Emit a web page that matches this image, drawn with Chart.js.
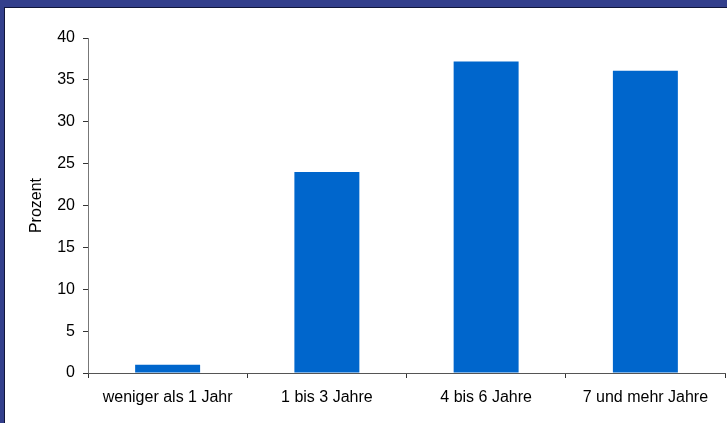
<!DOCTYPE html>
<html>
<head>
<meta charset="utf-8">
<script src="https://cdn.jsdelivr.net/npm/chart.js@4"></script>
<style>
  html, body { margin: 0; padding: 0; }
  body { width: 727px; height: 423px; background: #333f8c; position: relative; overflow: hidden; }
  #frame {
    position: absolute; left: 4px; top: 7px; width: 723px; height: 416px;
    border-left: 1px solid #10153a; border-top: 1px solid #10153a;
    background: #ffffff; box-sizing: border-box;
  }
  #wrap { position: absolute; left: 0; top: 0; width: 722px; height: 415px; }
</style>
</head>
<body>
<div id="frame"><div id="wrap"><canvas id="dauerChart"></canvas></div></div>
<script>
// Data
const categories = ["weniger als 1 Jahr", "1 bis 3 Jahre", "4 bis 6 Jahre", "7 und mehr Jahre"];
const prozent = [1, 24, 37.2, 36.1];
const yTicks = [0, 5, 10, 15, 20, 25, 30, 35, 40];

Chart.defaults.font.family = "'Liberation Sans', Arial, sans-serif";
Chart.defaults.font.size = 16;
Chart.defaults.color = "#000";

const ctx = document.getElementById("dauerChart").getContext("2d");
const dauerChart = new Chart(ctx, {
  type: "bar",
  data: {
    labels: categories,
    datasets: [
      {
        label: "Prozent",
        data: prozent,
        backgroundColor: "#0066cc",
        borderWidth: 0,
        barPercentage: 0.408,
        categoryPercentage: 1,
      },
    ],
  },
  options: {
    responsive: true,
    maintainAspectRatio: false,
    animation: false,
    layout: { padding: { top: 30, right: 2, left: 0, bottom: 0 } },
    plugins: {
      legend: { display: false },
      tooltip: { enabled: false },
    },
    scales: {
      y: {
        min: 0,
        max: 40,
        afterBuildTicks: (scale) => {
          scale.ticks = yTicks.map((v) => ({ value: v }));
        },
        afterFit: (scale) => {
          scale.width = 83;
        },
        ticks: { padding: 8, color: "#000" },
        grid: { drawOnChartArea: false, drawTicks: true, tickLength: 5, tickColor: "#333" },
        border: { color: "#777", width: 1 },
        title: {
          display: true,
          text: "Prozent",
          color: "#000",
          font: { size: 16 },
          padding: { top: 22, bottom: 0 },
        },
      },
      x: {
        offset: true,
        afterFit: (scale) => {
          scale.height = 50;
        },
        ticks: { padding: 10, color: "#000", maxRotation: 0 },
        grid: { offset: true, drawOnChartArea: false, drawTicks: true, tickLength: 5, tickColor: "#333" },
        border: { color: "#555", width: 1 },
      },
    },
  },
});
</script>
</body>
</html>
